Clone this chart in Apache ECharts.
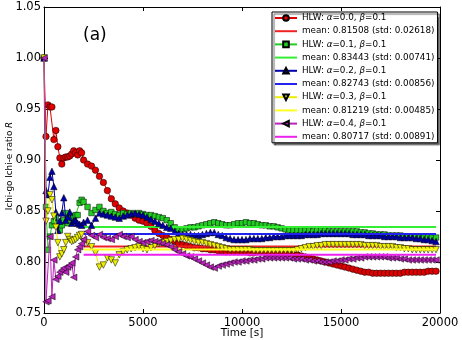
<!DOCTYPE html>
<html>
<head>
<meta charset="utf-8">
<script src="https://cdn.jsdelivr.net/npm/echarts@6/dist/echarts.min.js"></script>
<style>
html,body{margin:0;padding:0;background:#fff;}
#chart{width:462px;height:340px;}
</style>
</head>
<body>
<div id="chart"></div>
<script>
// ---- data ----
const times = [
  0,100,200,300,400,500,600,700,800,900,1000,1100,1200,1300,1400,1500,1600,1700,1800,1900,2000,
  2200,2400,2600,2800,3000, 3200,3400,3600,3800,4000, 4200,4400,4600,4800,5000, 5200,5400,5600,5800,6000,
  6200,6400,6600,6800,7000, 7200,7400,7600,7800,8000, 8200,8400,8600,8800,9000, 9200,9400,9600,9800,10000,
  10200,10400,10600,10800,11000, 11200,11400,11600,11800,12000, 12200,12400,12600,12800,13000,
  13200,13400,13600,13800,14000, 14200,14400,14600,14800,15000, 15200,15400,15600,15800,16000,
  16200,16400,16600,16800,17000, 17200,17400,17600,17800,18000, 18200,18400,18600,18800,19000,
  19200,19400,19600,19800
];

const hlwA00 = [
  1.000,0.923,0.954,0.952,0.952,0.920,0.929,0.913,0.902,0.896,0.902,0.903,0.903,0.904,0.906,0.909,0.907,0.905,0.909,0.907,0.900,
  0.896,0.894,0.890,0.884,0.878, 0.870,0.862,0.857,0.853,0.850, 0.848,0.846,0.843,0.841,0.840, 0.838,0.835,0.831,0.828,0.826,
  0.824,0.822,0.820,0.818,0.817, 0.816,0.815,0.814,0.814,0.813, 0.813,0.812,0.812,0.811,0.811, 0.810,0.810,0.810,0.810,0.810,
  0.810,0.809,0.809,0.810,0.810, 0.809,0.809,0.809,0.809,0.809, 0.808,0.808,0.807,0.807,0.806,
  0.805,0.804,0.803,0.802,0.801, 0.800,0.799,0.798,0.797,0.796, 0.795,0.794,0.793,0.792,0.791,
  0.790,0.790,0.789,0.789,0.789, 0.789,0.789,0.789,0.789,0.789, 0.790,0.790,0.790,0.790,0.790,
  0.790,0.791,0.791,0.791
];
const hlwA01 = [
  1.000,0.854,0.812,0.825,0.836,0.840,0.844,0.838,0.831,0.836,0.841,0.848,0.838,0.841,0.844,0.845,0.846,0.846,0.858,0.861,0.859,
  0.854,0.848,0.851,0.854,0.850, 0.848,0.849,0.847,0.846,0.848, 0.847,0.848,0.847,0.848,0.847, 0.846,0.846,0.845,0.844,0.843,
  0.841,0.838,0.834,0.832,0.832, 0.833,0.834,0.834,0.835,0.836, 0.837,0.838,0.839,0.838,0.837, 0.836,0.836,0.837,0.838,0.838,
  0.839,0.838,0.838,0.837,0.836, 0.836,0.835,0.835,0.834,0.833, 0.832,0.831,0.831,0.831,0.831,
  0.831,0.831,0.830,0.831,0.831, 0.831,0.830,0.830,0.830,0.830, 0.830,0.830,0.830,0.830,0.829,
  0.829,0.828,0.828,0.827,0.827, 0.827,0.826,0.826,0.826,0.826, 0.825,0.825,0.825,0.825,0.824,
  0.824,0.824,0.824,0.824
];
const hlwA02 = [
  1.000,0.870,0.866,0.883,0.889,0.874,0.849,0.831,0.840,0.848,0.863,0.841,0.844,0.849,0.838,0.840,0.841,0.838,0.837,0.836,0.839,
  0.841,0.836,0.843,0.848,0.847, 0.846,0.845,0.844,0.843,0.845, 0.846,0.847,0.848,0.847,0.846, 0.844,0.842,0.840,0.838,0.836,
  0.834,0.833,0.830,0.828,0.827, 0.827,0.827,0.826,0.826,0.827, 0.828,0.829,0.829,0.827,0.826, 0.824,0.823,0.822,0.822,0.822,
  0.822,0.823,0.823,0.823,0.823, 0.824,0.824,0.825,0.825,0.825, 0.826,0.826,0.826,0.826,0.826,
  0.827,0.827,0.827,0.827,0.828, 0.828,0.828,0.828,0.828,0.828, 0.828,0.828,0.827,0.827,0.827,
  0.827,0.826,0.826,0.826,0.826, 0.825,0.825,0.825,0.825,0.824, 0.824,0.824,0.824,0.823,0.823,
  0.822,0.822,0.821,0.820
];
const hlwA03 = [
  1.000,0.840,0.850,0.866,0.861,0.845,0.834,0.819,0.805,0.808,0.812,0.819,0.825,0.822,0.820,0.821,0.822,0.824,0.826,0.827,0.820,
  0.819,0.815,0.809,0.795,0.797, 0.804,0.802,0.799,0.807,0.810, 0.812,0.813,0.814,0.815,0.813, 0.812,0.814,0.816,0.818,0.819,
  0.820,0.821,0.822,0.822,0.823, 0.822,0.821,0.820,0.819,0.819, 0.818,0.817,0.816,0.815,0.814, 0.813,0.812,0.812,0.812,0.812,
  0.812,0.812,0.811,0.811,0.811, 0.811,0.811,0.811,0.811,0.811, 0.811,0.811,0.811,0.812,0.813,
  0.814,0.815,0.815,0.816,0.816, 0.817,0.817,0.817,0.817,0.817, 0.817,0.817,0.817,0.817,0.817,
  0.816,0.816,0.816,0.816,0.815, 0.815,0.815,0.815,0.814,0.814, 0.813,0.813,0.812,0.812,0.812,
  0.812,0.812,0.812,0.812
];
const hlwA04 = [
  1.000,0.761,0.762,0.825,0.766,0.802,0.783,0.786,0.790,0.792,0.794,0.790,0.795,0.797,0.799,0.785,0.805,0.812,0.815,0.818,0.822,
  0.830,0.826,0.824,0.827,0.824, 0.823,0.822,0.825,0.827,0.825, 0.824,0.825,0.822,0.820,0.819, 0.820,0.821,0.820,0.819,0.818,
  0.817,0.815,0.812,0.810,0.808, 0.806,0.805,0.803,0.801,0.799, 0.797,0.795,0.794,0.796,0.797, 0.798,0.799,0.800,0.800,0.801,
  0.801,0.802,0.802,0.803,0.803, 0.804,0.804,0.804,0.804,0.804, 0.804,0.804,0.803,0.803,0.803,
  0.802,0.802,0.801,0.801,0.800, 0.800,0.800,0.801,0.801,0.802, 0.802,0.803,0.803,0.804,0.804,
  0.805,0.805,0.805,0.805,0.805, 0.805,0.804,0.804,0.804,0.803, 0.803,0.802,0.802,0.802,0.802,
  0.802,0.802,0.802,0.802
];

const alphaLabels = ['0.0', '0.1', '0.2', '0.3', '0.4'];
const betaLabel = '0.1';
const meanValues = ['0.81508', '0.83443', '0.82743', '0.81219', '0.80717'];
const stdValues = ['0.02618', '0.00741', '0.00856', '0.00485', '0.00891'];
const meanSpan = [2000, 19800];
const xTicks = [0, 5000, 10000, 15000, 20000];
const yTicks = [0.75, 0.80, 0.85, 0.90, 0.95, 1.00, 1.05];
const xTitle = 'Time [s]';
const yTitle = 'Ichi-go Ichi-e ratio {i|R}';
const panelLabel = '(a)';

// ---- styling ----
const runs = [hlwA00, hlwA01, hlwA02, hlwA03, hlwA04];
const markerColors = ['#e00000', '#22cc22', '#0000aa', '#eeee00', '#bb22bb'];
const meanColors = ['#ee2222', '#33ee33', '#2222ee', '#ffff22', '#ee22ee'];
const symbols = ['circle', 'rect', 'triangle', 'triangle', 'triangle'];
const rotations = [0, 0, 0, 180, 90];
const sizes = [6.5, 5.5, 6.5, 6.5, 6.5];

const series = [];
const legendData = [];
runs.forEach((vals, i) => {
  const name = 'HLW: α=' + alphaLabels[i] + ', β=' + betaLabel;
  const mname = 'mean: ' + meanValues[i] + ' (std: ' + stdValues[i] + ')';
  legendData.push({ name: name });
  legendData.push({ name: mname, itemStyle: { opacity: 0 } });
  series.push({
    name: name,
    type: 'line',
    data: times.map((t, k) => [t, vals[k]]),
    symbol: symbols[i],
    symbolSize: sizes[i],
    symbolRotate: rotations[i],
    showAllSymbol: true,
    lineStyle: { color: markerColors[i], width: 1 },
    itemStyle: { color: markerColors[i], borderColor: '#000', borderWidth: 0.5 },
    emphasis: { disabled: true },
    z: 2 + i * 2
  });
  series.push({
    name: mname,
    type: 'line',
    data: [[meanSpan[0], +meanValues[i]], [meanSpan[1], +meanValues[i]]],
    symbol: 'none',
    lineStyle: { color: meanColors[i], width: 2 },
    itemStyle: { color: meanColors[i] },
    emphasis: { disabled: true },
    z: 3 + i * 2
  });
});

const font = 'DejaVu Sans';
const axisCommon = {
  type: 'value',
  axisLine: { show: true, onZero: false, lineStyle: { color: '#000', width: 1 } },
  axisTick: { show: true, inside: true, length: 4, lineStyle: { color: '#000' } },
  splitLine: { show: false }
};
const chart = echarts.init(document.getElementById('chart'), null, { renderer: 'canvas' });
chart.setOption({
  animation: false,
  backgroundColor: '#fff',
  grid: { left: 44, right: 22, top: 7, bottom: 27, containLabel: false },
  xAxis: [Object.assign({}, axisCommon, {
    min: xTicks[0], max: xTicks[xTicks.length - 1], interval: 5000,
    axisLabel: { fontFamily: font, fontSize: 11.5, color: '#000', margin: 4,
      formatter: v => String(v) }
  }), Object.assign({}, axisCommon, {
    position: 'top', min: xTicks[0], max: xTicks[xTicks.length - 1], interval: 5000,
    axisLabel: { show: false }
  })],
  yAxis: [Object.assign({}, axisCommon, {
    min: yTicks[0], max: yTicks[yTicks.length - 1], interval: 0.05,
    axisLabel: { fontFamily: font, fontSize: 11.5, color: '#000', margin: 3,
      formatter: v => v.toFixed(2) }
  }), Object.assign({}, axisCommon, {
    position: 'right', min: yTicks[0], max: yTicks[yTicks.length - 1], interval: 0.05,
    axisLabel: { show: false }
  })],
  legend: {
    data: legendData,
    orient: 'vertical',
    left: 272, top: 12,
    padding: [0, 3, 0, 2],
    itemWidth: 22, itemHeight: 7, itemGap: 1.2,
    backgroundColor: '#fff',
    borderColor: '#000', borderWidth: 1,
    shadowColor: 'rgba(0,0,0,0.6)', shadowOffsetX: 2, shadowOffsetY: 2, shadowBlur: 1,
    selectedMode: false,
    textStyle: { fontFamily: font, fontSize: 8.8, color: '#000', lineHeight: 12,
      rich: { g: { fontFamily: font, fontSize: 8.8, fontStyle: 'italic', color: '#000', lineHeight: 12 } } },
    formatter: n => n.replace(/([αβ])/g, '{g|$1}')
  },
  graphic: [{
    type: 'text', left: 83, top: 27,
    style: { text: panelLabel, fontFamily: font, fontSize: 17, fill: '#000' }
  }, {
    type: 'text', x: 242, y: 333,
    style: { text: xTitle, fontFamily: font, fontSize: 10.5, fill: '#000',
      align: 'center', verticalAlign: 'middle' }
  }, {
    type: 'text', x: 10, y: 166, rotation: Math.PI / 2,
    style: { text: yTitle, fontFamily: font, fontSize: 8.8, fill: '#000',
      align: 'center', verticalAlign: 'middle',
      rich: { i: { fontFamily: font, fontSize: 8.8, fontStyle: 'italic', fill: '#000' } } }
  }],
  series: series
});
</script>
</body>
</html>
